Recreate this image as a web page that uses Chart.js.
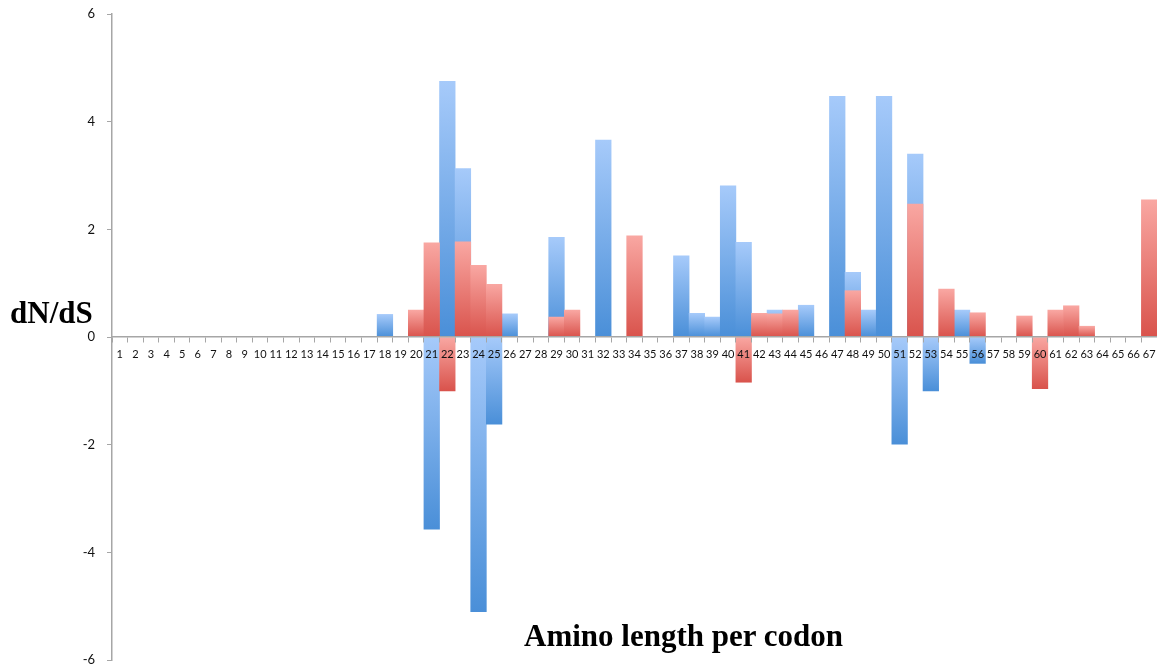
<!DOCTYPE html>
<html>
<head>
<meta charset="utf-8">
<script src="https://cdn.jsdelivr.net/npm/chart.js@4/dist/chart.umd.min.js"></script>
<style>
  html, body { margin: 0; padding: 0; background: #fff; }
  #wrap { position: relative; width: 1157px; height: 671px; overflow: hidden; }
  canvas { position: absolute; left: 0; top: 0; }
  .ttl { position: absolute; font-family: "Liberation Serif", "DejaVu Serif", serif; font-weight: bold; color: #000; white-space: nowrap; }
  #ytitle { left: 10px; top: 295px; font-size: 31px; }
  #xtitle { left: 524px; top: 618px; font-size: 31px; }
</style>
</head>
<body>
<div id="wrap">
  <canvas id="c" width="1157" height="671"></canvas>
  <div id="ytitle" class="ttl">dN/dS</div>
  <div id="xtitle" class="ttl">Amino length per codon</div>
</div>
<script>
const categories = ['1','2','3','4','5','6','7','8','9','10','11','12','13','14','15','16','17','18','19','20','21','22','23','24','25','26','27','28','29','30','31','32','33','34','35','36','37','38','39','40','41','42','43','44','45','46','47','48','49','50','51','52','53','54','55','56','57','58','59','60','61','62','63','64','65','66','67'];

const blueValues = [
  null,null,null,null,null,null,null,null,null,null,   // 1-10
  null,null,null,null,null,null,null,0.42,null,null,   // 11-20
  -3.57,4.75,3.13,-5.10,-1.62,0.43,null,null,1.85,null, // 21-30
  null,3.66,null,null,null,null,1.51,0.44,0.37,2.81,   // 31-40
  1.76,null,0.50,null,0.59,null,4.47,1.20,0.50,4.47,   // 41-50
  -1.99,3.40,-1.00,null,0.50,-0.49,null,null,null,null, // 51-60
  null,null,null,null,null,null,null                    // 61-67
];

const redValues = [
  null,null,null,null,null,null,null,null,null,null,   // 1-10
  null,null,null,null,null,null,null,null,null,0.50,   // 11-20
  1.75,-1.00,1.77,1.33,0.98,null,null,null,0.37,0.50,  // 21-30
  null,null,null,1.88,null,null,null,null,null,null,   // 31-40
  -0.84,0.44,0.43,0.50,null,null,null,0.86,null,null,  // 41-50
  null,2.47,null,0.89,null,0.45,null,null,0.39,-0.96,  // 51-60
  0.50,0.58,0.20,null,null,null,2.55                   // 61-67
];

const yTicks = [-6, -4, -2, 0, 2, 4, 6];

function gradientFill(light, dark) {
  return function (ctx) {
    const chart = ctx.chart;
    if (!chart.chartArea) return dark;
    const v = ctx.raw;
    if (v === null || v === undefined) return dark;
    const ys = chart.scales.y;
    const p1 = ys.getPixelForValue(v);
    const p0 = ys.getPixelForValue(0);
    const top = Math.min(p0, p1), bot = Math.max(p0, p1);
    if (bot - top < 1) return dark;
    const g = chart.ctx.createLinearGradient(0, top, 0, bot);
    g.addColorStop(0, light);
    g.addColorStop(1, dark);
    return g;
  };
}

const axisGray = '#a6a6a6';

new Chart(document.getElementById('c'), {
  type: 'bar',
  data: {
    labels: categories,
    datasets: [
      {
        label: 'red',
        data: redValues,
        order: 0,
        grouped: false,
        barPercentage: 1,
        categoryPercentage: 1,
        backgroundColor: gradientFill('#f9a7a2', '#d9534c'),
        borderWidth: 0
      },
      {
        label: 'blue',
        data: blueValues,
        order: 1,
        grouped: false,
        barPercentage: 1,
        categoryPercentage: 1,
        backgroundColor: gradientFill('#a6cafa', '#4a8fd8'),
        borderWidth: 0
      }
    ]
  },
  options: {
    responsive: false,
    animation: false,
    devicePixelRatio: 1,
    layout: { padding: { top: 14, bottom: 11, left: 0, right: 0 } },
    plugins: { legend: { display: false }, tooltip: { enabled: false }, title: { display: false } },
    scales: {
      x: {
        position: { y: 0 },
        offset: true,
        afterFit: (s) => { s.paddingLeft = 0; s.paddingRight = 0; },
        grid: {
          offset: true,
          drawOnChartArea: false,
          drawTicks: true,
          tickLength: 5,
          color: axisGray,
          z: 1
        },
        border: { color: axisGray, width: 1.5, z: 1 },
        ticks: {
          z: 1,
          autoSkip: false,
          maxRotation: 0,
          minRotation: 0,
          padding: 6,
          color: '#111',
          font: { family: 'Lato', size: 11 }
        }
      },
      y: {
        min: -6,
        max: 6,
        afterFit: (s) => { s.width = 112; s.paddingTop = 0; s.paddingBottom = 0; },
        afterBuildTicks: (s) => { s.ticks = yTicks.map(v => ({ value: v })); },
        grid: {
          drawOnChartArea: false,
          drawTicks: true,
          tickLength: 5,
          color: axisGray
        },
        border: { color: axisGray, width: 1.5 },
        ticks: {
          padding: 12,
          color: '#111',
          font: { family: 'Lato', size: 13 }
        }
      }
    }
  }
});
</script>
</body>
</html>
